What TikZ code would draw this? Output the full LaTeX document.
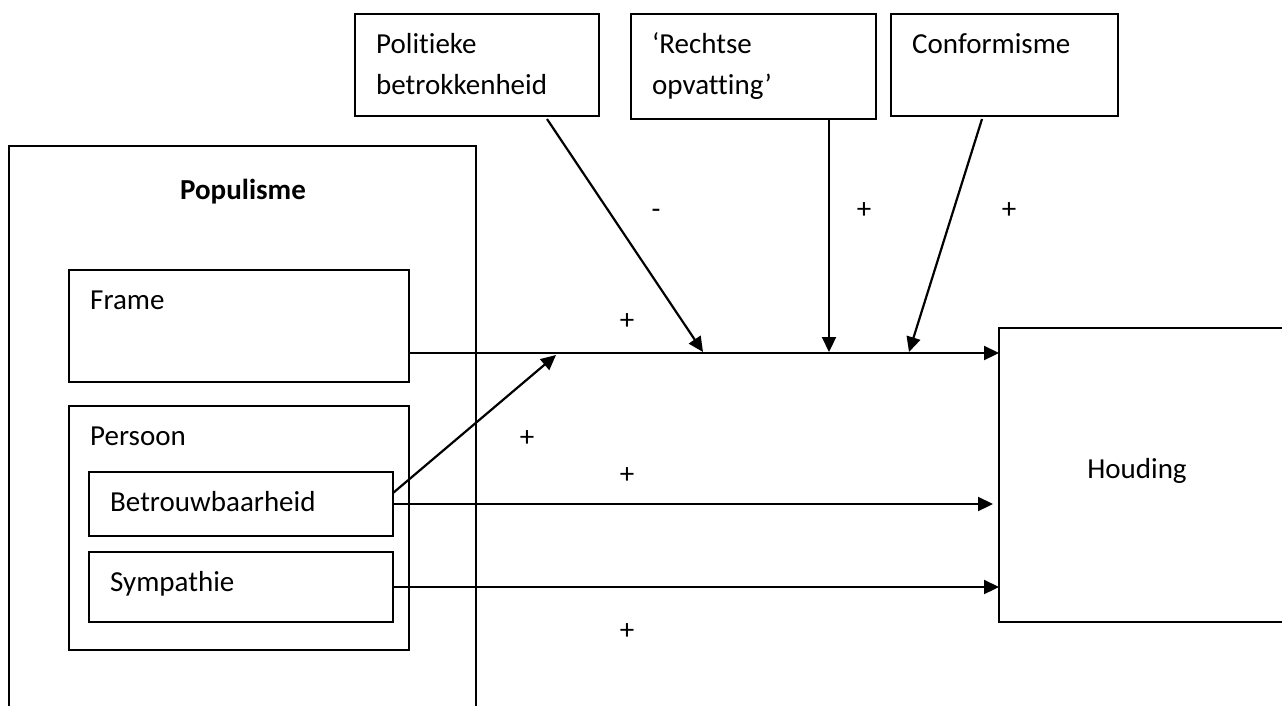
\documentclass[tikz,border=0pt]{standalone}
\usepackage{fontspec}
\setmainfont{Carlito}[Ligatures=NoCommon]
\usetikzlibrary{arrows.meta,calc}
\begin{document}
\begin{tikzpicture}[x=1pt,y=-1pt,
  box/.style={draw,line width=1.8pt,anchor=north west,inner sep=0pt,outer sep=0pt},
  txt/.style={anchor=base west,inner sep=0pt,font=\fontsize{29}{41}\selectfont},
  sgn/.style={inner sep=0pt,font=\fontsize{29}{41}\selectfont},
  arr/.style={line width=2.2pt,-{Triangle[length=15pt,width=14pt]}}]
\useasboundingbox (0,0) rectangle (1282,705);
\clip (0,0) rectangle (1282,705);
% boxes
\node[box,minimum width=467pt,minimum height=620pt] (pop) at (9,146) {};
\node[box,minimum width=340pt,minimum height=112pt] (frame) at (69,270) {};
\node[box,minimum width=340pt,minimum height=244pt] (pers) at (69,406) {};
\node[box,minimum width=304pt,minimum height=64pt] (betr) at (89,472) {};
\node[box,minimum width=304pt,minimum height=70pt] (sym) at (89,552) {};
\node[box,minimum width=244pt,minimum height=102pt] (pol) at (355,14) {};
\node[box,minimum width=245pt,minimum height=105pt] (rech) at (631,14) {};
\node[box,minimum width=227pt,minimum height=102pt] (conf) at (891,14) {};
\node[box,minimum width=400pt,minimum height=294pt] (hou) at (999,328) {};
% texts
\node[txt,anchor=base] (tpop) at (243,199) {\bfseries Populisme};
\node[txt] (tframe) at (90,309) {Frame};
\node[txt] (tpers) at (90,445) {Persoon};
\node[txt] (tbetr) at (110,511) {Betrouwbaarheid};
\node[txt] (tsym) at (110,591) {Sympathie};
\node[txt] (tpol1) at (376,53) {Politieke};
\node[txt] (tpol2) at (376,94) {betrokkenheid};
\node[txt] (trech1) at (652,53) {‘Rechtse};
\node[txt] (trech2) at (652,94) {opvatting’};
\node[txt] (tconf) at (912,53) {Conformisme};
\node[txt,anchor=base] (thou) at (1137,478) {Houding};
% junction points on the main path
\coordinate (hin) at ($(hou.north west)+(0,25)$);
\coordinate (m1) at (556,355);
\coordinate (m2) at (703,352);
\coordinate (m3) at (829,352);
\coordinate (m4) at (909,352);
% connectors
\draw[arr] (frame.east |- hin) -- (hin);
\draw[arr] ($(betr.east)+(0,-11)$) -- (m1);
\draw[arr] (betr.east) -- ($(hou.west |- betr.east)+(-6,0)$);
\draw[arr] (sym.east) -- (sym.east -| hou.west);
\draw[arr] ($(pol.south west)+(192,3)$) -- (m2);
\draw[arr] ($(rech.south west)+(198,0)$) -- (m3);
\draw[arr] ($(conf.south west)+(91,3)$) -- (m4);
% signs
\node[sgn] (s1) at (656,214) {-};
\node[sgn] (s2) at (864,211) {+};
\node[sgn] (s3) at (1009,211) {+};
\node[sgn] (s4) at (627,322) {+};
\node[sgn] (s5) at (527,439) {+};
\node[sgn] (s6) at (627,476) {+};
\node[sgn] (s7) at (627,632) {+};
\end{tikzpicture}
\end{document}
